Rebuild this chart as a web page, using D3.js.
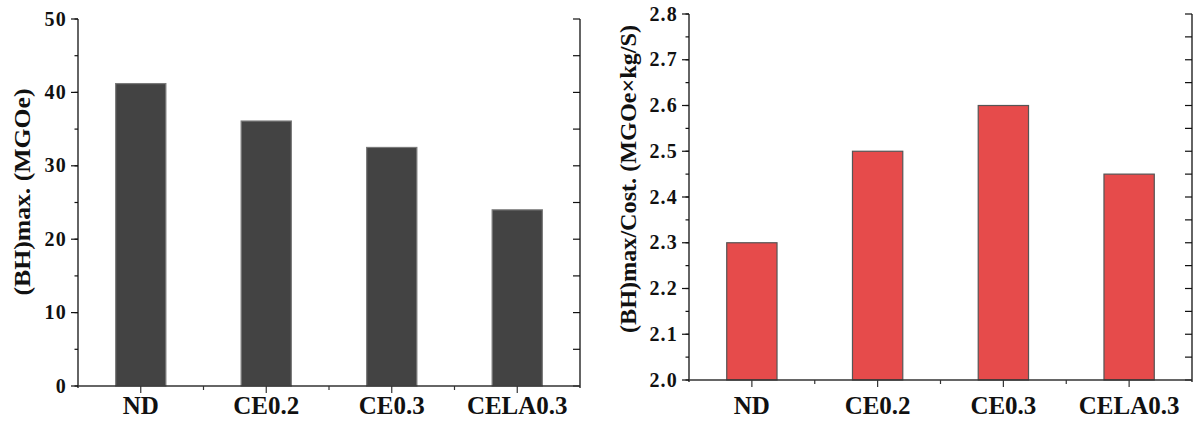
<!DOCTYPE html>
<html><head><meta charset="utf-8">
<script src="https://cdn.jsdelivr.net/npm/d3@7"></script>
<style>body{margin:0;background:#fff}svg{display:block}</style>
</head><body><svg id="c" width="1193" height="421" font-family="'Liberation Serif', 'DejaVu Serif', serif" font-weight="bold"></svg>
<script>
const categories = ["ND","CE0.2","CE0.3","CELA0.3"];
const bhMax = [41.2, 36.1, 32.5, 24.0];
const bhPerCost = [2.30, 2.50, 2.60, 2.45];
const leftTicks = [0,10,20,30,40,50];
const rightTicks = [2.0,2.1,2.2,2.3,2.4,2.5,2.6,2.7,2.8];

const svg = d3.select("#c");
const FONT = "'Liberation Serif', 'DejaVu Serif', serif";

function panel(o){
  const g = svg.append("g");
  const xs = d3.scaleBand().domain(categories).range([o.x0,o.x1]);
  const y = d3.scaleLinear().domain(o.domain).range([o.yb,o.yt]);
  g.selectAll("rect.bar").data(o.values).join("rect")
    .attr("x",(d,i)=>xs(categories[i])+xs.bandwidth()/2-xs.bandwidth()*0.2)
    .attr("width",xs.bandwidth()*0.4)
    .attr("y",d=>y(d)).attr("height",d=>y(o.domain[0])-y(d))
    .attr("fill",o.fill).attr("stroke",o.stroke).attr("stroke-width",1.2);
  const minor = d3.range(o.domain[0], o.domain[1]+o.minorStep/2, o.minorStep);
  g.append("line").attr("x1",o.x0).attr("x2",o.x0).attr("y1",o.yt).attr("y2",o.yb+2).attr("stroke","#111").attr("stroke-width",1.3);
  g.selectAll("line.mt").data(minor).join("line")
    .attr("x1",o.x0-3.5).attr("x2",o.x0).attr("y1",d=>y(d)).attr("y2",d=>y(d)).attr("stroke","#111").attr("stroke-width",1.2);
  g.selectAll("line.Mt").data(o.ticks).join("line")
    .attr("x1",o.x0-7).attr("x2",o.x0).attr("y1",d=>y(d)).attr("y2",d=>y(d)).attr("stroke","#111").attr("stroke-width",1.2);
  g.selectAll("text.tl").data(o.ticks).join("text")
    .attr("x",o.x0-11).attr("y",d=>y(d)+6.5).attr("text-anchor","end")
    .attr("font-family",FONT).attr("font-weight","bold").attr("fill","#111")
    .attr("font-size",20).attr("letter-spacing",1.2).text(d=>o.fmt(d));
  g.append("line").attr("x1",o.x1).attr("x2",o.x1).attr("y1",o.yt).attr("y2",o.yb+2).attr("stroke","#111").attr("stroke-width",1.3);
  g.selectAll("line.rt").data(minor).join("line")
    .attr("x1",o.x1-7).attr("x2",o.x1).attr("y1",d=>y(d)).attr("y2",d=>y(d)).attr("stroke","#111").attr("stroke-width",1.2);
  g.append("line").attr("x1",o.x0).attr("x2",o.x1).attr("y1",o.yb).attr("y2",o.yb).attr("stroke","#333").attr("stroke-width",1.3);
  g.selectAll("line.xc").data(categories).join("line")
    .attr("x1",d=>xs(d)+xs.bandwidth()/2).attr("x2",d=>xs(d)+xs.bandwidth()/2)
    .attr("y1",o.yb).attr("y2",o.yb+7).attr("stroke","#333").attr("stroke-width",1.2);
  g.selectAll("line.xb").data(categories.slice(1)).join("line")
    .attr("x1",d=>xs(d)).attr("x2",d=>xs(d))
    .attr("y1",o.yb).attr("y2",o.yb+4).attr("stroke","#333").attr("stroke-width",1.2);
  g.selectAll("text.xl").data(categories).join("text")
    .attr("x",d=>xs(d)+xs.bandwidth()/2).attr("y",414).attr("text-anchor","middle")
    .attr("font-family",FONT).attr("font-weight","bold").attr("fill","#111")
    .attr("font-size",25).text(d=>d);
  g.append("text").attr("transform",`translate(${o.tx},${o.ty}) rotate(-90)`)
    .attr("text-anchor","middle").attr("font-size",24)
    .attr("font-family",FONT).attr("font-weight","bold").attr("fill","#111")
    .attr("textLength",o.tlen).attr("lengthAdjust","spacingAndGlyphs")
    .text(o.title);
}

panel({x0:78,x1:580,yt:19,yb:386,domain:[0,50],ticks:leftTicks,minorStep:5,values:bhMax,
  fill:"#434343",stroke:"#7a7a7a",fmt:d3.format("d"),title:"(BH)max. (MGOe)",tx:30,ty:192,tlen:207});
panel({x0:689,x1:1192,yt:14,yb:380,domain:[2.0,2.8],ticks:rightTicks,minorStep:0.05,values:bhPerCost,
  fill:"#e64b4b",stroke:"#555",fmt:d3.format(".1f"),title:"(BH)max/Cost. (MGOe\u00d7kg/S)",tx:636,ty:179,tlen:308});
</script></body></html>
